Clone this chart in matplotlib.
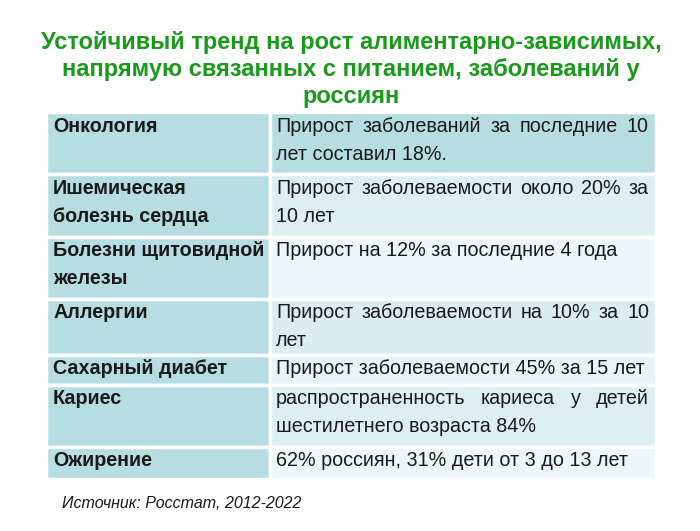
import matplotlib
matplotlib.use("Agg")
import matplotlib.pyplot as plt
from matplotlib.patches import Rectangle

title_lines = ["Устойчивый тренд на рост алиментарно-зависимых,",
               "напрямую связанных с питанием, заболеваний у",
               "россиян"]
diseases = [["Онкология"], ["Ишемическая", "болезнь сердца"], ["Болезни щитовидной", "железы"],
            ["Аллергии"], ["Сахарный диабет"], ["Кариес"], ["Ожирение"]]
facts = [["Прирост заболеваний за последние 10", "лет составил 18%."],
         ["Прирост заболеваемости около 20% за", "10 лет"],
         ["Прирост на 12% за последние 4 года"],
         ["Прирост заболеваемости на 10% за 10", "лет"],
         ["Прирост заболеваемости 45% за 15 лет"],
         ["распространенность кариеса у детей", "шестилетнего возраста 84%"],
         ["62% россиян, 31% дети от 3 до 13 лет"]]
justify = [[True, False], [True, False], [False], [True, False], [False], [True, False], [False]]
source = "Источник: Росстат, 2012-2022"

row_edges = [112, 174, 237, 299, 355, 385, 447, 479]
x0, xm, x1 = 46, 270, 656
left_col = "#b6dde2"
right_cols = ["#b6dde2", "#deeff2", "#edf6f8", "#dcedf0", "#e9f4f6", "#deeff2", "#eef7f8"]

fig = plt.figure(figsize=(7, 5.31), dpi=100)
ax = fig.add_axes([0, 0, 1, 1])
ax.set_xlim(0, 700); ax.set_ylim(531, 0); ax.axis("off")
FONT = "Liberation Sans"
for i, t in enumerate(title_lines):
    ax.text(351, 42 + i * 27.5, t, ha="center", va="center", fontsize=17,
            fontweight="bold", color="#1a9a1a", family=FONT)

fig.canvas.draw()
r = fig.canvas.get_renderer()
inv = ax.transData.inverted()

def width_of(s, **kw):
    t = ax.text(0, 0, s, **kw)
    bb = t.get_window_extent(renderer=r)
    t.remove()
    a = inv.transform((bb.x0, bb.y0)); b = inv.transform((bb.x1, bb.y1))
    return b[0] - a[0]

fs = 14.2
for i in range(len(diseases)):
    ya, yb = row_edges[i], row_edges[i + 1]
    ax.add_patch(Rectangle((x0, ya), xm - x0, yb - ya, facecolor=left_col, edgecolor="white", lw=2.5))
    ax.add_patch(Rectangle((xm, ya), x1 - xm, yb - ya, facecolor=right_cols[i], edgecolor="white", lw=2.5))
    for j, s in enumerate(diseases[i]):
        ax.text(53, ya + 14 + j * 28, s, ha="left", va="center", fontsize=14.2,
                fontweight="bold", color="#1a1a1a", family=FONT)
    for j, s in enumerate(facts[i]):
        y = ya + 14 + j * 28
        kw = dict(fontsize=fs, color="#1a1a1a", family=FONT)
        if justify[i][j]:
            words = s.split()
            ws = [width_of(w, **kw) for w in words]
            gap = ((x1 - 7) - 276 - sum(ws)) / (len(words) - 1)
            x = 276
            for w, wd in zip(words, ws):
                ax.text(x, y, w, ha="left", va="center", **kw)
                x += wd + gap
        else:
            ax.text(276, y, s, ha="left", va="center", **kw)

ax.text(62, 503, source, ha="left", va="center", fontsize=11.5, style="italic",
        color="#1a1a1a", family=FONT)
fig.savefig("out.png", dpi=100)
